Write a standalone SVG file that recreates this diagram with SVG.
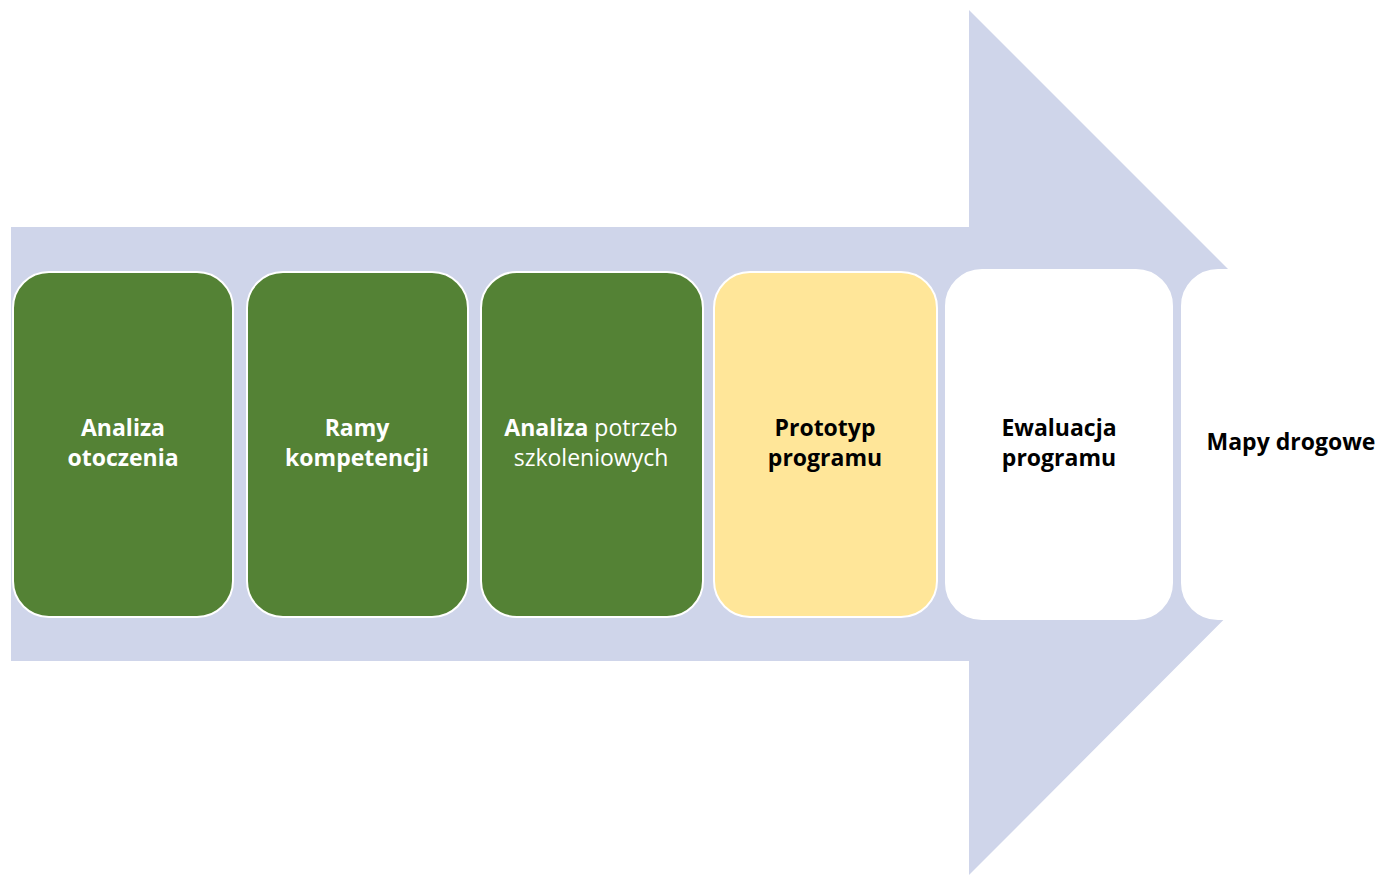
<svg xmlns="http://www.w3.org/2000/svg" width="1387" height="875" viewBox="0 0 1387 875">
<style>
.box{stroke:#ffffff;stroke-width:2}
.g{fill:#548235}
.y{fill:#FFE699}
.w{fill:#ffffff}
text{font-family:"Open Sans","Liberation Sans",sans-serif;font-size:23px;text-anchor:middle}
.b{font-weight:bold}
.lt{fill:#ffffff}
.dk{fill:#000000}
</style>
<g id="arrow">
<polygon points="11,227 969,227 969,10 1401,442 969,875 969,661 11,661" fill="#CFD5EA"/>
</g>
<g id="connectors"></g>
<g id="n1">
<rect class="box g" x="13" y="272" width="220" height="345" rx="36"/>
<text class="lt b" x="123" y="436">Analiza</text>
<text class="lt b" x="123" y="466">otoczenia</text>
</g>
<g id="n2">
<rect class="box g" x="247" y="272" width="221" height="345" rx="36"/>
<text class="lt b" x="357" y="436">Ramy</text>
<text class="lt b" x="357" y="466">kompetencji</text>
</g>
<g id="n3">
<rect class="box g" x="481" y="272" width="222" height="345" rx="36"/>
<text class="lt" x="591" y="436"><tspan class="b">Analiza</tspan> potrzeb</text>
<text class="lt" x="591" y="466">szkoleniowych</text>
</g>
<g id="n4">
<rect class="box y" x="714" y="272" width="223" height="345" rx="36"/>
<text class="dk b" x="825" y="436">Prototyp</text>
<text class="dk b" x="825" y="466">programu</text>
</g>
<g id="n5">
<rect class="box w" x="946" y="270" width="226" height="349" rx="36"/>
<text class="dk b" x="1059" y="436">Ewaluacja</text>
<text class="dk b" x="1059" y="466">programu</text>
</g>
<g id="n6">
<rect class="box w" x="1182" y="270" width="240" height="349" rx="36"/>
<text class="dk b" x="1291" y="450">Mapy drogowe</text>
</g>
</svg>
